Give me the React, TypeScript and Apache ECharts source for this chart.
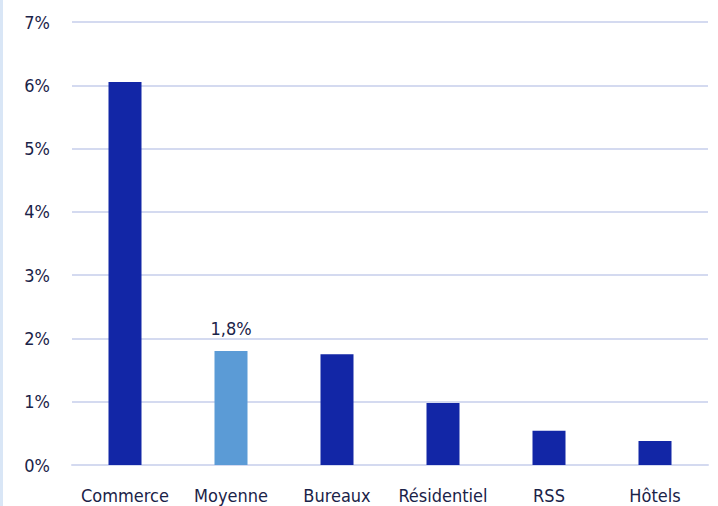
import React, { useEffect, useRef } from "react";
import * as echarts from "echarts";

const categories = ["Commerce", "Moyenne", "Bureaux", "Résidentiel", "RSS", "Hôtels"];
const values = [6.05, 1.8, 1.75, 0.98, 0.54, 0.38];
const highlighted = ["Moyenne"];
const yTicks = [0, 1, 2, 3, 4, 5, 6, 7];

const DARK = "#1226a6";
const LIGHT = "#5b9bd6";
const TEXT = "#1b2348";
const GRID = "#d4daf0";
const FONT = "'DejaVu Sans Condensed', Roboto, sans-serif";

export default function App() {
  const ref = useRef<HTMLDivElement>(null);
  useEffect(() => {
    if (!ref.current) return;
    const chart = echarts.init(ref.current, undefined, { renderer: "svg" });
    chart.setOption({
      animation: false,
      graphic: [
        {
          type: "line",
          shape: { x1: 1.5, y1: 0, x2: 1.5, y2: 506 },
          style: { stroke: "#d9e6f6", lineWidth: 3 },
        },
      ],
      grid: { left: 72, right: 10, top: 22, bottom: 41, containLabel: false },
      xAxis: {
        type: "category",
        data: categories,
        axisTick: { show: false },
        axisLine: { show: true, lineStyle: { color: GRID, width: 2 } },
        axisLabel: { color: TEXT, fontSize: 18, fontFamily: FONT, margin: 21, interval: 0 },
      },
      yAxis: {
        type: "value",
        min: yTicks[0],
        max: yTicks[yTicks.length - 1],
        interval: 1,
        axisLine: { show: false },
        axisTick: { show: false },
        splitLine: { lineStyle: { color: GRID, width: 2 } },
        axisLabel: {
          color: TEXT,
          fontSize: 18,
          fontFamily: FONT,
          margin: 22,
          formatter: (v: number) => `${v}%`,
        },
      },
      series: [
        {
          type: "bar",
          barWidth: 33,
          data: values.map((v, i) => {
            const hl = highlighted.includes(categories[i]);
            return {
              value: v,
              itemStyle: { color: hl ? LIGHT : DARK },
              label: hl
                ? {
                    show: true,
                    position: "top",
                    distance: 14,
                    color: TEXT,
                    fontSize: 18,
                    fontFamily: FONT,
                    formatter: (p: any) => `${String(p.value).replace(".", ",")}%`,
                  }
                : { show: false },
            };
          }),
        },
      ],
    });
    return () => chart.dispose();
  }, []);
  return <div ref={ref} style={{ width: 718, height: 506, position: "absolute", left: 0, top: 0 }} />;
}
